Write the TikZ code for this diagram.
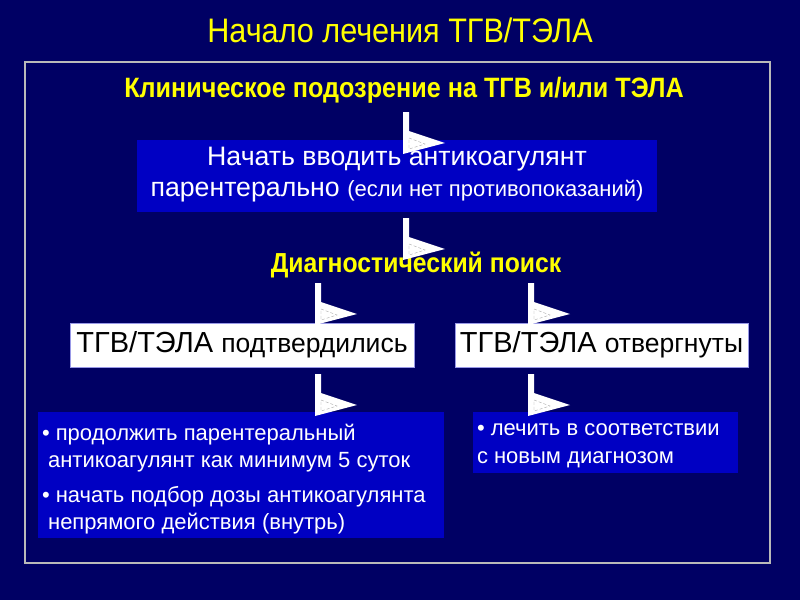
\documentclass[tikz,border=0pt]{standalone}
\usepackage{fontspec}
\setmainfont{Liberation Sans}
\newfontfamily\narrowfont[FakeStretch=0.9]{Liberation Sans}
\usetikzlibrary{positioning,calc}
\definecolor{bgnavy}{RGB}{0,0,100}
\definecolor{boxblue}{RGB}{0,0,195}
\definecolor{ttlyellow}{RGB}{255,255,0}
\tikzset{
  ylw/.style={text=ttlyellow, inner sep=0pt},
  bluebox/.style={fill=boxblue, inner sep=0pt},
  whitebox/.style={fill=white, draw=boxblue!40!white, inner sep=0pt, text=black,
    font=\fontsize{29}{32}\selectfont},
  bultxt/.style={text=white, align=left, anchor=north west, inner sep=0pt,
    font=\fontsize{22}{27.5}\selectfont},
  flagarr/.pic={
    \fill[white] (0,0) -- (6,0) -- (6,19) -- (42,31) -- (0,42) -- cycle;
    \draw[gray!70, densely dashed, thin] (6,26) -- (22,32) -- (6,37) -- cycle;
  },
}

\begin{document}
\begin{tikzpicture}[x=1pt, y=-1pt]
  \useasboundingbox (0,0) rectangle (800,600);
  \fill[bgnavy] (0,0) rectangle (800,600);
  \draw[gray!55!white, line width=1.2pt] (25,62) rectangle (770,563);

  % --- headings ---
  \node[ylw, font=\narrowfont\fontsize{34}{38}\selectfont] (ttl) at (400,30) {Начало лечения ТГВ/ТЭЛА};
  \node[ylw, font=\narrowfont\bfseries\fontsize{28}{32}\selectfont] (susp) at (404,90) {Клиническое подозрение на ТГВ и/или ТЭЛА};

  % --- first step ---
  \node[bluebox, minimum width=520, minimum height=72] (start) at (397,176) {};
  \node[text=white, align=center, font=\fontsize{26.7}{31}\selectfont] at ($(start)+(0,-1)$) {Начать вводить антикоагулянт\\парентерально {\fontsize{22}{31}\selectfont(если нет противопоказаний)}};

  \node[ylw, font=\narrowfont\bfseries\fontsize{27.5}{32}\selectfont] (diag) at (416,265) {Диагностический поиск};

  % --- outcomes ---
  \node[whitebox, minimum width=344, minimum height=44] (conf) at (242,345) {ТГВ/ТЭЛА {\fontsize{26.5}{32}\selectfont подтвердились}};
  \node[whitebox, minimum width=293, minimum height=44] (rej) at (601.5,345) {ТГВ/ТЭЛА {\fontsize{26.5}{32}\selectfont отвергнуты}};

  \node[bluebox, minimum width=406, minimum height=126] (confplan) at (241,475) {};
  \node[bultxt] at ($(confplan.north west)+(4,12)$) {• продолжить парентеральный\\\ антикоагулянт как минимум 5 суток\\[7pt]• начать подбор дозы антикоагулянта\\\ непрямого действия (внутрь)};
  \node[bluebox, minimum width=265, minimum height=61] (rejplan) at (605.5,442.5) {};
  \node[bultxt] at ($(rejplan.north west)+(4,12)$) {• лечить в соответствии\\с новым диагнозом};

  % --- arrows ---
  \pic at (403,112) {flagarr};
  \pic at (403,218) {flagarr};
  \pic at (315,283) {flagarr};
  \pic at (528,283) {flagarr};
  \pic at (315,374) {flagarr};
  \pic at (528,374) {flagarr};
\end{tikzpicture}
\end{document}
